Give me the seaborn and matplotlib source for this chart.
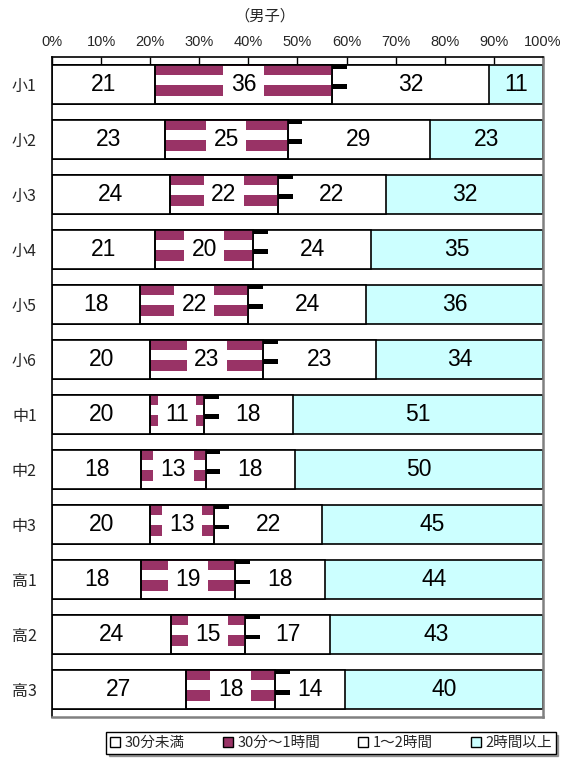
import numpy as np
import pandas as pd
import matplotlib
matplotlib.use('Agg')
import matplotlib.pyplot as plt
import seaborn as sns
from matplotlib.patches import Patch

# --- Data ---
grades = ['小1', '小2', '小3', '小4', '小5', '小6',
          '中1', '中2', '中3', '高1', '高2', '高3']
under_30 = [21, 23, 24, 21, 18, 20, 20, 18, 20, 18, 24, 27]
min30_1h = [36, 25, 22, 20, 22, 23, 11, 13, 13, 19, 15, 18]
h1_2 = [32, 29, 22, 24, 24, 23, 18, 18, 22, 18, 17, 14]
over_2h = [11, 23, 32, 35, 36, 34, 51, 50, 45, 44, 43, 40]
series_names = ['30分未満', '30分～1時間', '1～2時間', '2時間以上']
x_ticks = [0, 10, 20, 30, 40, 50, 60, 70, 80, 90, 100]

MAROON = '#993366'
CYAN = '#CCFFFF'
CJK = ['Noto Sans CJK JP', 'DejaVu Sans']
NUM = ['Liberation Sans Narrow', 'Liberation Sans', 'DejaVu Sans']

# --- Prep: 100% stacked shares ---
df = pd.DataFrame({'grade': grades, 'v1': under_30, 'v2': min30_1h,
                   'v3': h1_2, 'v4': over_2h})
total = df[['v1', 'v2', 'v3', 'v4']].sum(axis=1)
for k in ['v1', 'v2', 'v3', 'v4']:
    df['p' + k[1]] = df[k] / total * 100
df['c1'] = df['p1']
df['c2'] = df['c1'] + df['p2']
df['c3'] = df['c2'] + df['p3']
df['c4'] = df['c3'] + df['p4']

sns.set_theme(style='white')
plt.rcParams['font.family'] = CJK

fig = plt.figure(figsize=(5.62, 7.58), dpi=100)
ax = fig.add_axes([0.0925, 0.054, 0.8737, 0.871])

# back-to-front cumulative layers
for col, color in [('c4', CYAN), ('c3', 'white'), ('c2', 'white')]:
    sns.barplot(data=df, x=col, y='grade', orient='h', color=color,
                saturation=1, edgecolor='black', linewidth=1.2,
                width=0.7, ax=ax)

ypos = np.arange(len(grades))

# striped pattern of the 30分～1時間 segment
ax.barh(ypos - 0.259, df['p2'], left=df['c1'], height=0.182,
        color=MAROON, linewidth=0)
ax.barh(ypos + 0.114, df['p2'], left=df['c1'], height=0.2,
        color=MAROON, linewidth=0)

# clipped pattern marks at the start of the 1～2時間 segment
ax.barh(ypos - 0.315, 3.0, left=df['c2'], height=0.07, color='black', linewidth=0)
ax.barh(ypos + 0.045, 3.0, left=df['c2'], height=0.09, color='black', linewidth=0)

sns.barplot(data=df, x='c1', y='grade', orient='h', color='white',
            saturation=1, edgecolor='black', linewidth=1.2, width=0.7, ax=ax)
ax.barh(ypos, df['p2'], left=df['c1'], height=0.7, fill=False,
        edgecolor='black', linewidth=1.2)

# value labels
for i, row in df.iterrows():
    starts = [0, row['c1'], row['c2'], row['c3']]
    widths = [row['p1'], row['p2'], row['p3'], row['p4']]
    vals = [row['v1'], row['v2'], row['v3'], row['v4']]
    for j in range(4):
        kw = {}
        if j == 1:
            kw['bbox'] = dict(boxstyle='square,pad=0.32', facecolor='white',
                              edgecolor='none')
        ax.text(starts[j] + widths[j] / 2, i, f'{vals[j]}', ha='center',
                va='center', fontsize=16.5, family=NUM, color='black', **kw)

# axes styling
ax.set_xlim(0, 100)
ax.set_ylim(len(grades) - 0.5, -0.5)
ax.xaxis.tick_top()
ax.set_xticks(x_ticks)
ax.set_xticklabels([f'{t}%' for t in x_ticks], family=NUM, fontsize=10.5)
ax.tick_params(axis='x', direction='in', length=5, width=1, color='black',
               top=True, bottom=False, pad=6)
ax.tick_params(axis='y', length=0, pad=11, labelsize=11.5)
ax.set_xlabel('')
ax.set_ylabel('')
for s in ['top', 'left']:
    ax.spines[s].set_color('black')
    ax.spines[s].set_linewidth(1.2)
for s in ['right', 'bottom']:
    ax.spines[s].set_color('#808080')
    ax.spines[s].set_linewidth(1.8)
ax.grid(False)

fig.text(265 / 562, 1 - 16 / 758, '（男子）', ha='center', va='center',
         fontsize=11, family=CJK)

handles = [Patch(facecolor='white', edgecolor='black'),
           Patch(facecolor=MAROON, edgecolor='black'),
           Patch(facecolor='white', edgecolor='black'),
           Patch(facecolor=CYAN, edgecolor='black')]
leg = fig.legend(handles, series_names, loc='center', ncol=4,
                 bbox_to_anchor=(0.589, 0.0198), frameon=True, fancybox=False,
                 shadow=True, edgecolor='black', fontsize=10.5,
                 handlelength=0.7, handleheight=0.7, handletextpad=0.3,
                 columnspacing=2.6, borderpad=0.25, borderaxespad=0)
leg.get_frame().set_linewidth(1.0)

fig.savefig('out.png', dpi=100)
